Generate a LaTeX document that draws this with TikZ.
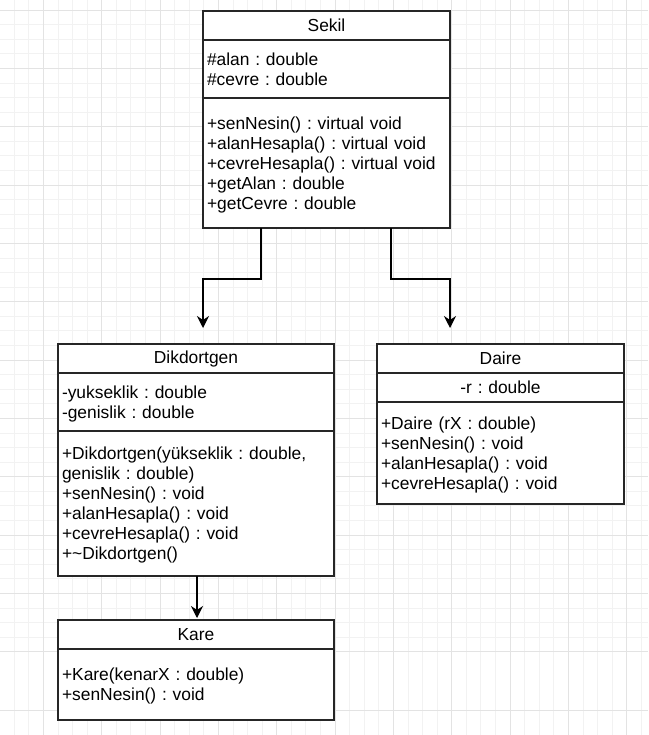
\documentclass[tikz,border=0pt]{standalone}
\usepackage{fontspec}
\setmainfont{Liberation Sans}
\usepackage{tikz}
\usetikzlibrary{arrows.meta}
\usetikzlibrary{calc}
\usetikzlibrary{positioning}
\frenchspacing
\newcommand{\firstln}{\rule{0pt}{17.6pt}}
\newcommand{\lastln}{\rule[-5pt]{0pt}{5pt}}

\begin{document}
\begin{tikzpicture}[x=1pt,y=-1pt,semithick]
	\tikzstyle{gridminor}=[draw=black!5, line width=0.8pt]
	\tikzstyle{gridmajor}=[draw=black!11, line width=0.8pt]
	\tikzstyle{part}=[draw=black!85, line width=1.3pt, fill=white, outer sep=0pt, inner xsep=4pt, inner ysep=0pt, font=\fontsize{17.4}{20}\selectfont]
	\tikzstyle{title}=[part, align=center]
	\tikzstyle{list}=[part, align=left]
	\tikzstyle{arr}=[draw=black, line width=1.3pt, -{Stealth[length=12pt,width=12pt,inset=4pt]}]
	\useasboundingbox (0,0) rectangle (648,735);
	\fill[white] (0,0) rectangle (648,735);

	\foreach \i in {0,...,45}{
		\draw[gridminor] (-0.42+\i*14.583,0) -- ++(0,735);
		\draw[gridminor] (0,-4.58+\i*14.583) -- ++(648,0);
	}
	\foreach \i in {0,...,12}{
		\draw[gridmajor] (-15+\i*58.333,0) -- ++(0,735);
		\draw[gridmajor] (0,10+\i*58.333) -- ++(648,0);
	}

	\node[title, text width=239pt, minimum height=29pt] (sekil) at (326.5,25.5) {Sekil};
	\node[list, text width=239pt, minimum height=58pt, below=0pt of sekil] (sekilAttr) {\firstln\#alan : double\\\#cevre : double\lastln};
	\node[list, text width=239pt, minimum height=130pt, below=0pt of sekilAttr] (sekilOps) {\firstln+senNesin() : virtual void\\+alanHesapla() : virtual void\\+cevreHesapla() : virtual void\\+getAlan : double\\+getCevre : double\lastln};

	\node[title, text width=268pt, minimum height=29pt] (dik) at (196,358.5) {Dikdortgen};
	\node[list, text width=268pt, minimum height=58pt, below=0pt of dik] (dikAttr) {\firstln-yukseklik : double\\-genislik : double\lastln};
	\node[list, text width=268pt, minimum height=145pt, below=0pt of dikAttr] (dikOps) {\firstln+Dikdortgen(yükseklik : double,\\genislik : double)\\+senNesin() : void\\+alanHesapla() : void\\+cevreHesapla() : void\\+\textasciitilde Dikdortgen()\lastln};

	\node[title, text width=239pt, minimum height=29pt] (daire) at (500.5,358.5) {Daire};
	\node[title, text width=239pt, minimum height=29pt, below=0pt of daire] (daireAttr) {-r : double};
	\node[list, text width=239pt, minimum height=102pt, below=0pt of daireAttr] (daireOps) {\firstln+Daire (rX : double)\\+senNesin() : void\\+alanHesapla() : void\\+cevreHesapla() : void\lastln};

	\node[title, text width=268pt, minimum height=29pt, below=44pt of dikOps] (kare) {Kare};
	\node[list, text width=268pt, minimum height=71pt, below=0pt of kare] (kareOps) {\firstln+Kare(kenarX : double)\\+senNesin() : void\lastln};

	\coordinate (dikIn) at ([xshift=7pt,yshift=16pt]dik.north);
	\coordinate (daireIn) at ([xshift=-50.5pt,yshift=16pt]daire.north);
	\draw[arr] ([xshift=-65.5pt]sekilOps.south) -- ++(0,51) -| (dikIn);
	\draw[arr] ([xshift=64.5pt]sekilOps.south) -- ++(0,51) -| (daireIn);
	\draw[arr] ([xshift=1pt]dikOps.south) -- ([xshift=1pt,yshift=2pt]kare.north);
\end{tikzpicture}
\end{document}
